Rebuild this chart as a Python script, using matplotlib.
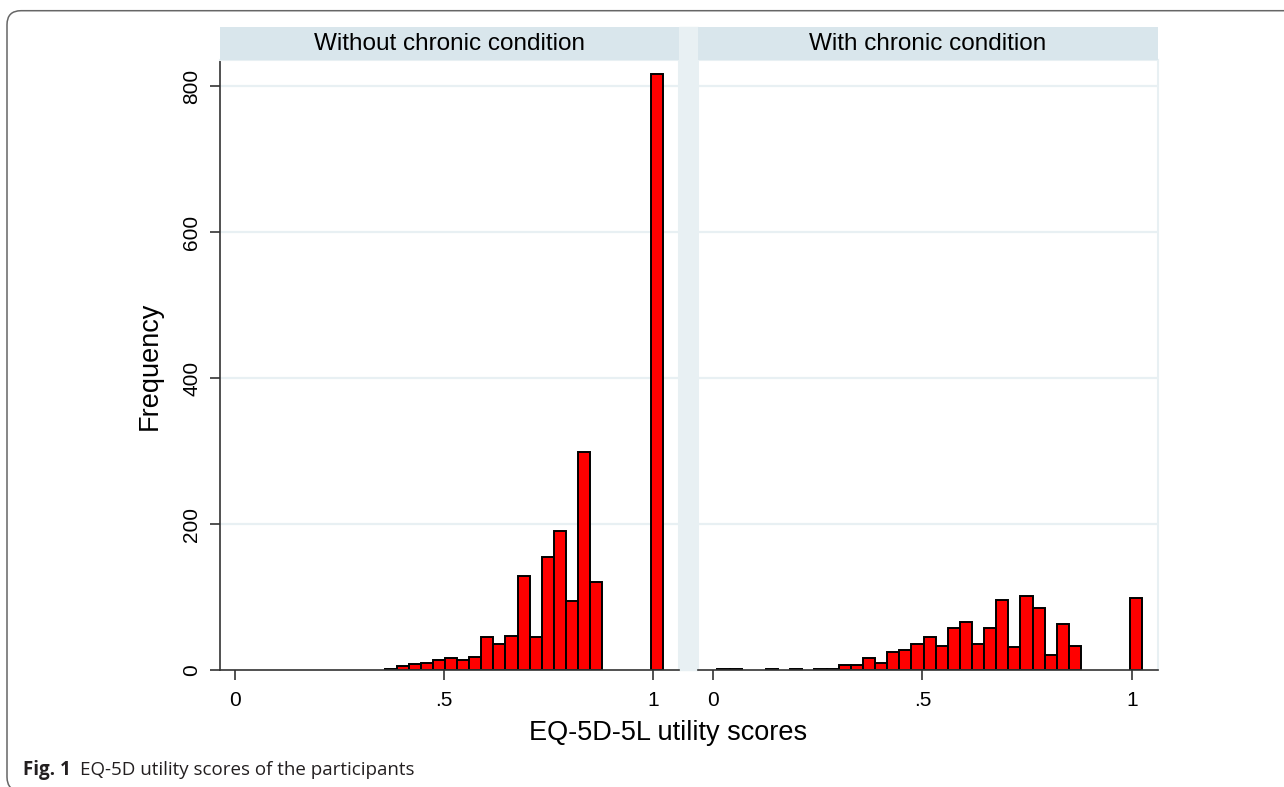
import numpy as np
import matplotlib
matplotlib.use('Agg')
import matplotlib.pyplot as plt
from matplotlib.patches import Rectangle, FancyBboxPatch

plt.rcParams['font.family'] = ['Liberation Sans', 'DejaVu Sans']

# histogram bins shared by both panels
bin_start = 0.0115
bin_width = 0.0289

counts_without = [0, 0, 0, 0, 0, 0, 0, 0, 0, 0, 0, 0,
                  2, 5, 8, 10, 14, 17, 14, 18, 45, 36, 47, 129,
                  45, 155, 190, 94, 299, 121, 0, 0, 0, 0, 817]
counts_with = [2, 2, 0, 0, 2, 0, 2, 0, 2, 2, 7, 7,
               17, 10, 25, 28, 36, 45, 33, 58, 66, 36, 58, 96,
               31, 101, 85, 20, 63, 33, 0, 0, 0, 0, 99]

panel_titles = ['Without chronic condition', 'With chronic condition']
y_ticks = [0, 200, 400, 600, 800]
x_ticks = [0, 0.5, 1]
x_tick_labels = ['0', '.5', '1']

W, H = 1284, 787


def fx(px):
    return px / W


def fy(py):
    return 1 - py / H


fig = plt.figure(figsize=(W / 100, H / 100), dpi=100)

panels = [(220, 679), (698, 1158)]
plot_top, plot_bottom, strip_top = 60, 670, 27
light = '#e8f0f3'
axis_col = '#333333'

edges = bin_start + bin_width * np.arange(len(counts_without))

# light column between the two panels
fig.add_artist(Rectangle((fx(679), fy(plot_bottom)), 19 / W,
                         (plot_bottom - strip_top) / H,
                         transform=fig.transFigure, color=light, zorder=-1))

for i, ((x0, x1), title, counts) in enumerate(
        zip(panels, panel_titles, [counts_without, counts_with])):
    ax = fig.add_axes([fx(x0), fy(plot_bottom), (x1 - x0) / W,
                       (plot_bottom - plot_top) / H])
    counts = np.array(counts)
    keep = counts > 0
    ax.bar(edges[keep], counts[keep], width=bin_width, align='edge',
           color='#ff0000', edgecolor='black', linewidth=1.4, zorder=3)
    ax.set_xlim(-0.035, 1.062)
    ax.set_ylim(0, 836)
    ax.set_yticks(y_ticks)
    ax.set_xticks(x_ticks)
    ax.set_xticklabels(x_tick_labels)
    for y in y_ticks[1:]:
        ax.axhline(y, color=light, linewidth=1.6, zorder=1)

    ax.tick_params(axis='x', direction='out', length=7, width=1.2,
                   color=axis_col, pad=8, labelsize=15)
    if i == 0:
        ax.tick_params(axis='y', direction='out', length=7.5, width=1.2,
                       color=axis_col, pad=6, labelsize=15, labelrotation=90)
        for lbl in ax.get_yticklabels():
            lbl.set_va('center')
        ax.spines['left'].set_color(axis_col)
        ax.spines['left'].set_linewidth(1.2)
    else:
        ax.tick_params(axis='y', left=False, labelleft=False)
        ax.spines['left'].set_color(light)
        ax.spines['left'].set_linewidth(1.5)
    ax.spines['bottom'].set_color(axis_col)
    ax.spines['bottom'].set_linewidth(1.2)
    ax.spines['bottom'].set_zorder(4)
    for s in ['top', 'right']:
        ax.spines[s].set_color(light)
        ax.spines[s].set_linewidth(1.5)

    # panel title strip
    sax = fig.add_axes([fx(x0), fy(plot_top), (x1 - x0) / W,
                        (plot_top - strip_top) / H])
    sax.set_facecolor('#d9e6ec')
    sax.set_xticks([])
    sax.set_yticks([])
    for s in sax.spines.values():
        s.set_visible(False)
    sax.text(0.5, 0.47, title, ha='center', va='center', fontsize=17.5,
             transform=sax.transAxes)

fig.text(fx(668), fy(733), 'EQ-5D-5L utility scores', ha='center',
         va='center', fontsize=19.5)
fig.text(fx(150), fy(366), 'Frequency', ha='center', va='center',
         rotation=90, fontsize=19.5)

# outer rounded frame
fig.add_artist(FancyBboxPatch((0.07, -0.04), 13.2, 7.763 + 0.04,
                              boxstyle='round,pad=0,rounding_size=0.14',
                              transform=fig.dpi_scale_trans, fill=False,
                              edgecolor='#666666', linewidth=1.1))

# caption
cap1 = fig.text(fx(23), fy(775), 'Fig. 1', fontsize=13.5, fontweight='bold',
                family='Open Sans', color='#231f20', va='baseline')
renderer = fig.canvas.get_renderer()
bb = cap1.get_window_extent(renderer)
fig.text((bb.x1 + 9) / W, fy(775), 'EQ-5D utility scores of the participants',
         fontsize=13.5, family='Open Sans', color='#231f20', va='baseline')

fig.savefig('out.png', dpi=100)
